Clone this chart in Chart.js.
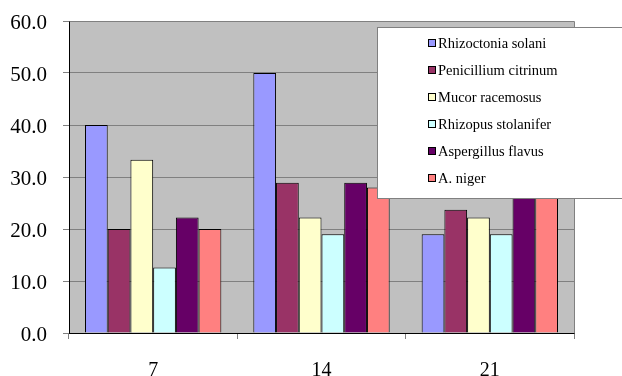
<!DOCTYPE html>
<html>
<head>
<meta charset="utf-8">
<script src="https://cdn.jsdelivr.net/npm/chart.js@4/dist/chart.umd.min.js"></script>
<style>
  html, body { margin: 0; padding: 0; background: #ffffff; }
  #wrap { width: 622px; height: 376px; position: relative; }
</style>
</head>
<body>
<div id="wrap"><canvas id="c" width="622" height="376"></canvas></div>
<script>
const categories = ["7", "14", "21"];
const seriesNames = ["Rhizoctonia solani", "Penicillium citrinum", "Mucor racemosus", "Rhizopus stolanifer", "Aspergillus flavus", "A. niger"];
const rhizoctonia = [40.0, 50.0, 19.0];
const penicillium = [20.0, 28.9, 23.7];
const mucor = [33.3, 22.2, 22.2];
const rhizopus = [12.6, 19.0, 19.0];
const aspergillus = [22.2, 28.9, 30.0];
const aniger = [20.0, 28.0, 28.0];
const seriesColors = ["#9999FF", "#993366", "#FFFFCC", "#CCFFFF", "#660066", "#FF8080"];
const yTicks = [0, 10, 20, 30, 40, 50, 60];

const seriesValues = [rhizoctonia, penicillium, mucor, rhizopus, aspergillus, aniger];
const SERIF = '"Liberation Serif", "Times New Roman", serif';

const plotBg = {
  id: 'plotBg',
  beforeDraw(chart) {
    const a = chart.chartArea, ctx = chart.ctx;
    ctx.save();
    ctx.fillStyle = '#C0C0C0';
    ctx.fillRect(a.left, a.top, a.right - a.left, a.bottom - a.top);
    ctx.restore();
  },
  afterDatasetsDraw(chart) {
    const a = chart.chartArea, ctx = chart.ctx;
    ctx.save();
    ctx.strokeStyle = '#808080';
    ctx.lineWidth = 1;
    ctx.beginPath();
    ctx.moveTo(Math.round(a.left) + 0.5, Math.round(a.top) + 0.5);
    ctx.lineTo(Math.round(a.right) + 0.5, Math.round(a.top) + 0.5);
    ctx.lineTo(Math.round(a.right) + 0.5, Math.round(a.bottom) + 0.5);
    ctx.stroke();
    ctx.restore();
  }
};

const boxLegend = {
  id: 'boxLegend',
  afterDraw(chart) {
    const ctx = chart.ctx;
    ctx.save();
    ctx.fillStyle = '#ffffff';
    ctx.fillRect(377, 27, 260, 171);
    ctx.strokeStyle = '#808080';
    ctx.lineWidth = 1;
    ctx.strokeRect(377.5, 27.5, 260, 171);
    ctx.font = '14.5px ' + SERIF;
    ctx.textBaseline = 'middle';
    ctx.textAlign = 'left';
    chart.data.datasets.forEach((ds, i) => {
      const y = 43 + i * 27;
      ctx.fillStyle = ds.backgroundColor;
      ctx.fillRect(428.5, y - 3.5, 7, 7);
      ctx.strokeStyle = '#000000';
      ctx.strokeRect(428.5, y - 3.5, 7, 7);
      ctx.fillStyle = '#000000';
      ctx.fillText(ds.label, 438, y + 1);
    });
    ctx.restore();
  }
};

new Chart(document.getElementById('c'), {
  type: 'bar',
  data: {
    labels: categories,
    datasets: seriesNames.map((n, i) => ({
      label: n,
      data: seriesValues[i],
      backgroundColor: seriesColors[i],
      borderColor: '#000000',
      borderWidth: 1,
      categoryPercentage: 0.81,
      barPercentage: 1.0
    }))
  },
  options: {
    responsive: false,
    animation: false,
    devicePixelRatio: 1,
    layout: { padding: { top: 21, right: 48, left: 0, bottom: 0 } },
    plugins: { legend: { display: false }, tooltip: { enabled: false } },
    scales: {
      x: {
        afterFit(s) { s.height = 43; s.paddingLeft = 0; s.paddingRight = 0; },
        grid: { display: true, drawOnChartArea: false, drawTicks: true, tickLength: 6, color: '#808080', offset: true },
        border: { display: true, color: '#000000' },
        ticks: { color: '#000000', font: { family: SERIF, size: 20 }, padding: 20, maxRotation: 0 }
      },
      y: {
        min: 0, max: 60,
        afterFit(s) { s.width = 69; s.paddingTop = 0; s.paddingBottom = 0; },
        afterBuildTicks(s) { s.ticks = yTicks.map(v => ({ value: v })); },
        grid: { color: '#808080', tickLength: 6, drawTicks: true },
        border: { display: true, color: '#000000' },
        ticks: {
          color: '#000000',
          font: { family: SERIF, size: 21 },
          padding: 16,
          labelOffset: 2,
          callback: v => Number(v).toFixed(1)
        }
      }
    }
  },
  plugins: [plotBg, boxLegend]
});
</script>
</body>
</html>
